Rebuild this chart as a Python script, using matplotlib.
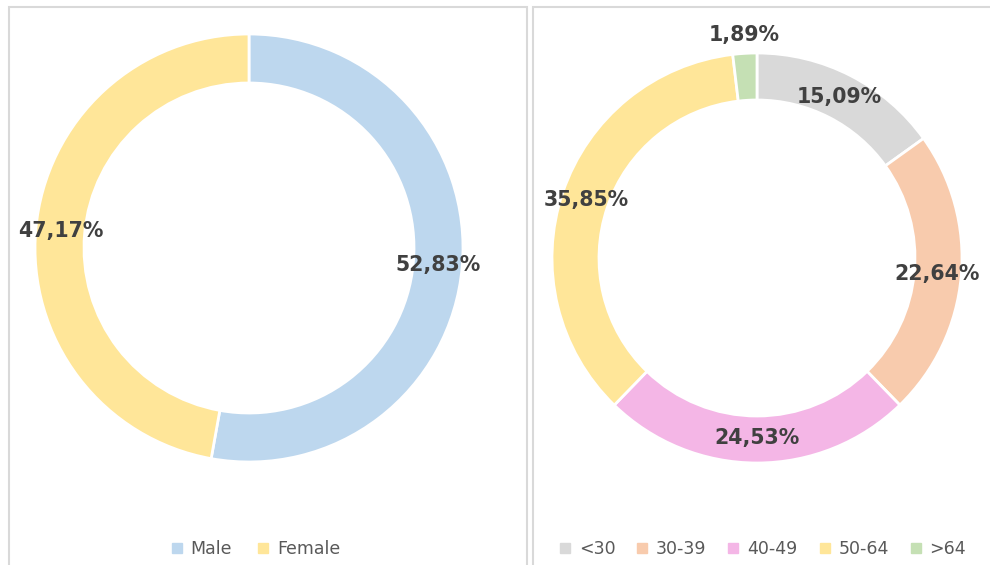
import matplotlib
matplotlib.use("Agg")
import matplotlib.pyplot as plt
from matplotlib.patches import Rectangle
from matplotlib.lines import Line2D
import numpy as np

# ============= data =============
gender_labels = ["Male", "Female"]
gender_values = [52.83, 47.17]
gender_colors = ["#BDD7EE", "#FFE699"]

age_labels = ["<30", "30-39", "40-49", "50-64", ">64"]
age_values = [15.09, 22.64, 24.53, 35.85, 1.89]
age_colors = ["#D9D9D9", "#F8CBAD", "#F4B6E6", "#FFE699", "#C5E0B4"]

W, H = 990, 565
fig = plt.figure(figsize=(W / 100, H / 100), dpi=100)
ax = fig.add_axes([0, 0, 1, 1])
ax.set_xlim(0, W)
ax.set_ylim(0, H)
ax.set_aspect("equal")
ax.axis("off")

def fmt(p):
    return f"{p:.2f}%".replace(".", ",")

label_style = dict(fontsize=14.8, fontweight="bold", color="#404040")

# panel borders
ax.add_patch(Rectangle((8.5, -10), 518.5, H - 6.5 + 10, fill=False, ec="#D9D9D9", lw=1.5))
ax.add_patch(Rectangle((532.5, -10), 470, H - 6.5 + 10, fill=False, ec="#D9D9D9", lw=1.5))

# ============= gender donut =============
r1 = 214
wedges, _, pcts = ax.pie(gender_values, colors=gender_colors, startangle=90, counterclock=False,
                         center=(249, H - 248), radius=r1, autopct=fmt, pctdistance=0.885,
                         wedgeprops=dict(width=49, edgecolor="white", linewidth=2),
                         textprops=label_style, frame=True)

# ============= age donut =============
r2 = 205
wedges2, _, pcts2 = ax.pie(age_values, colors=age_colors, startangle=90, counterclock=False,
                           center=(757, H - 258), radius=r2, autopct=fmt, pctdistance=0.88,
                           wedgeprops=dict(width=47, edgecolor="white", linewidth=2),
                           textprops=label_style, frame=True)
# small slice label sits outside the ring
w = wedges2[-1]
mid = np.deg2rad((w.theta1 + w.theta2) / 2)
pcts2[-1].set_position((757 + 1.09 * r2 * np.cos(mid), H - 258 + 1.09 * r2 * np.sin(mid)))

ax.set_xlim(0, W)
ax.set_ylim(0, H)
ax.axis("off")

# ============= legends =============
def handles(colors):
    return [Line2D([], [], marker="s", ls="none", markersize=7, color=c) for c in colors]

leg1 = ax.legend(handles(gender_colors), gender_labels, ncol=2, frameon=False,
                 loc="center", bbox_to_anchor=(255 / W, 16 / H), fontsize=12.5,
                 handlelength=0.8, handletextpad=0.4, columnspacing=1.4, labelcolor="#595959")
ax.add_artist(leg1)
ax.legend(handles(age_colors), age_labels, ncol=5, frameon=False,
          loc="center", bbox_to_anchor=(762 / W, 16 / H), fontsize=12.5,
          handlelength=0.8, handletextpad=0.4, columnspacing=1.15, labelcolor="#595959")

fig.savefig("out.png", dpi=100, facecolor="white")
